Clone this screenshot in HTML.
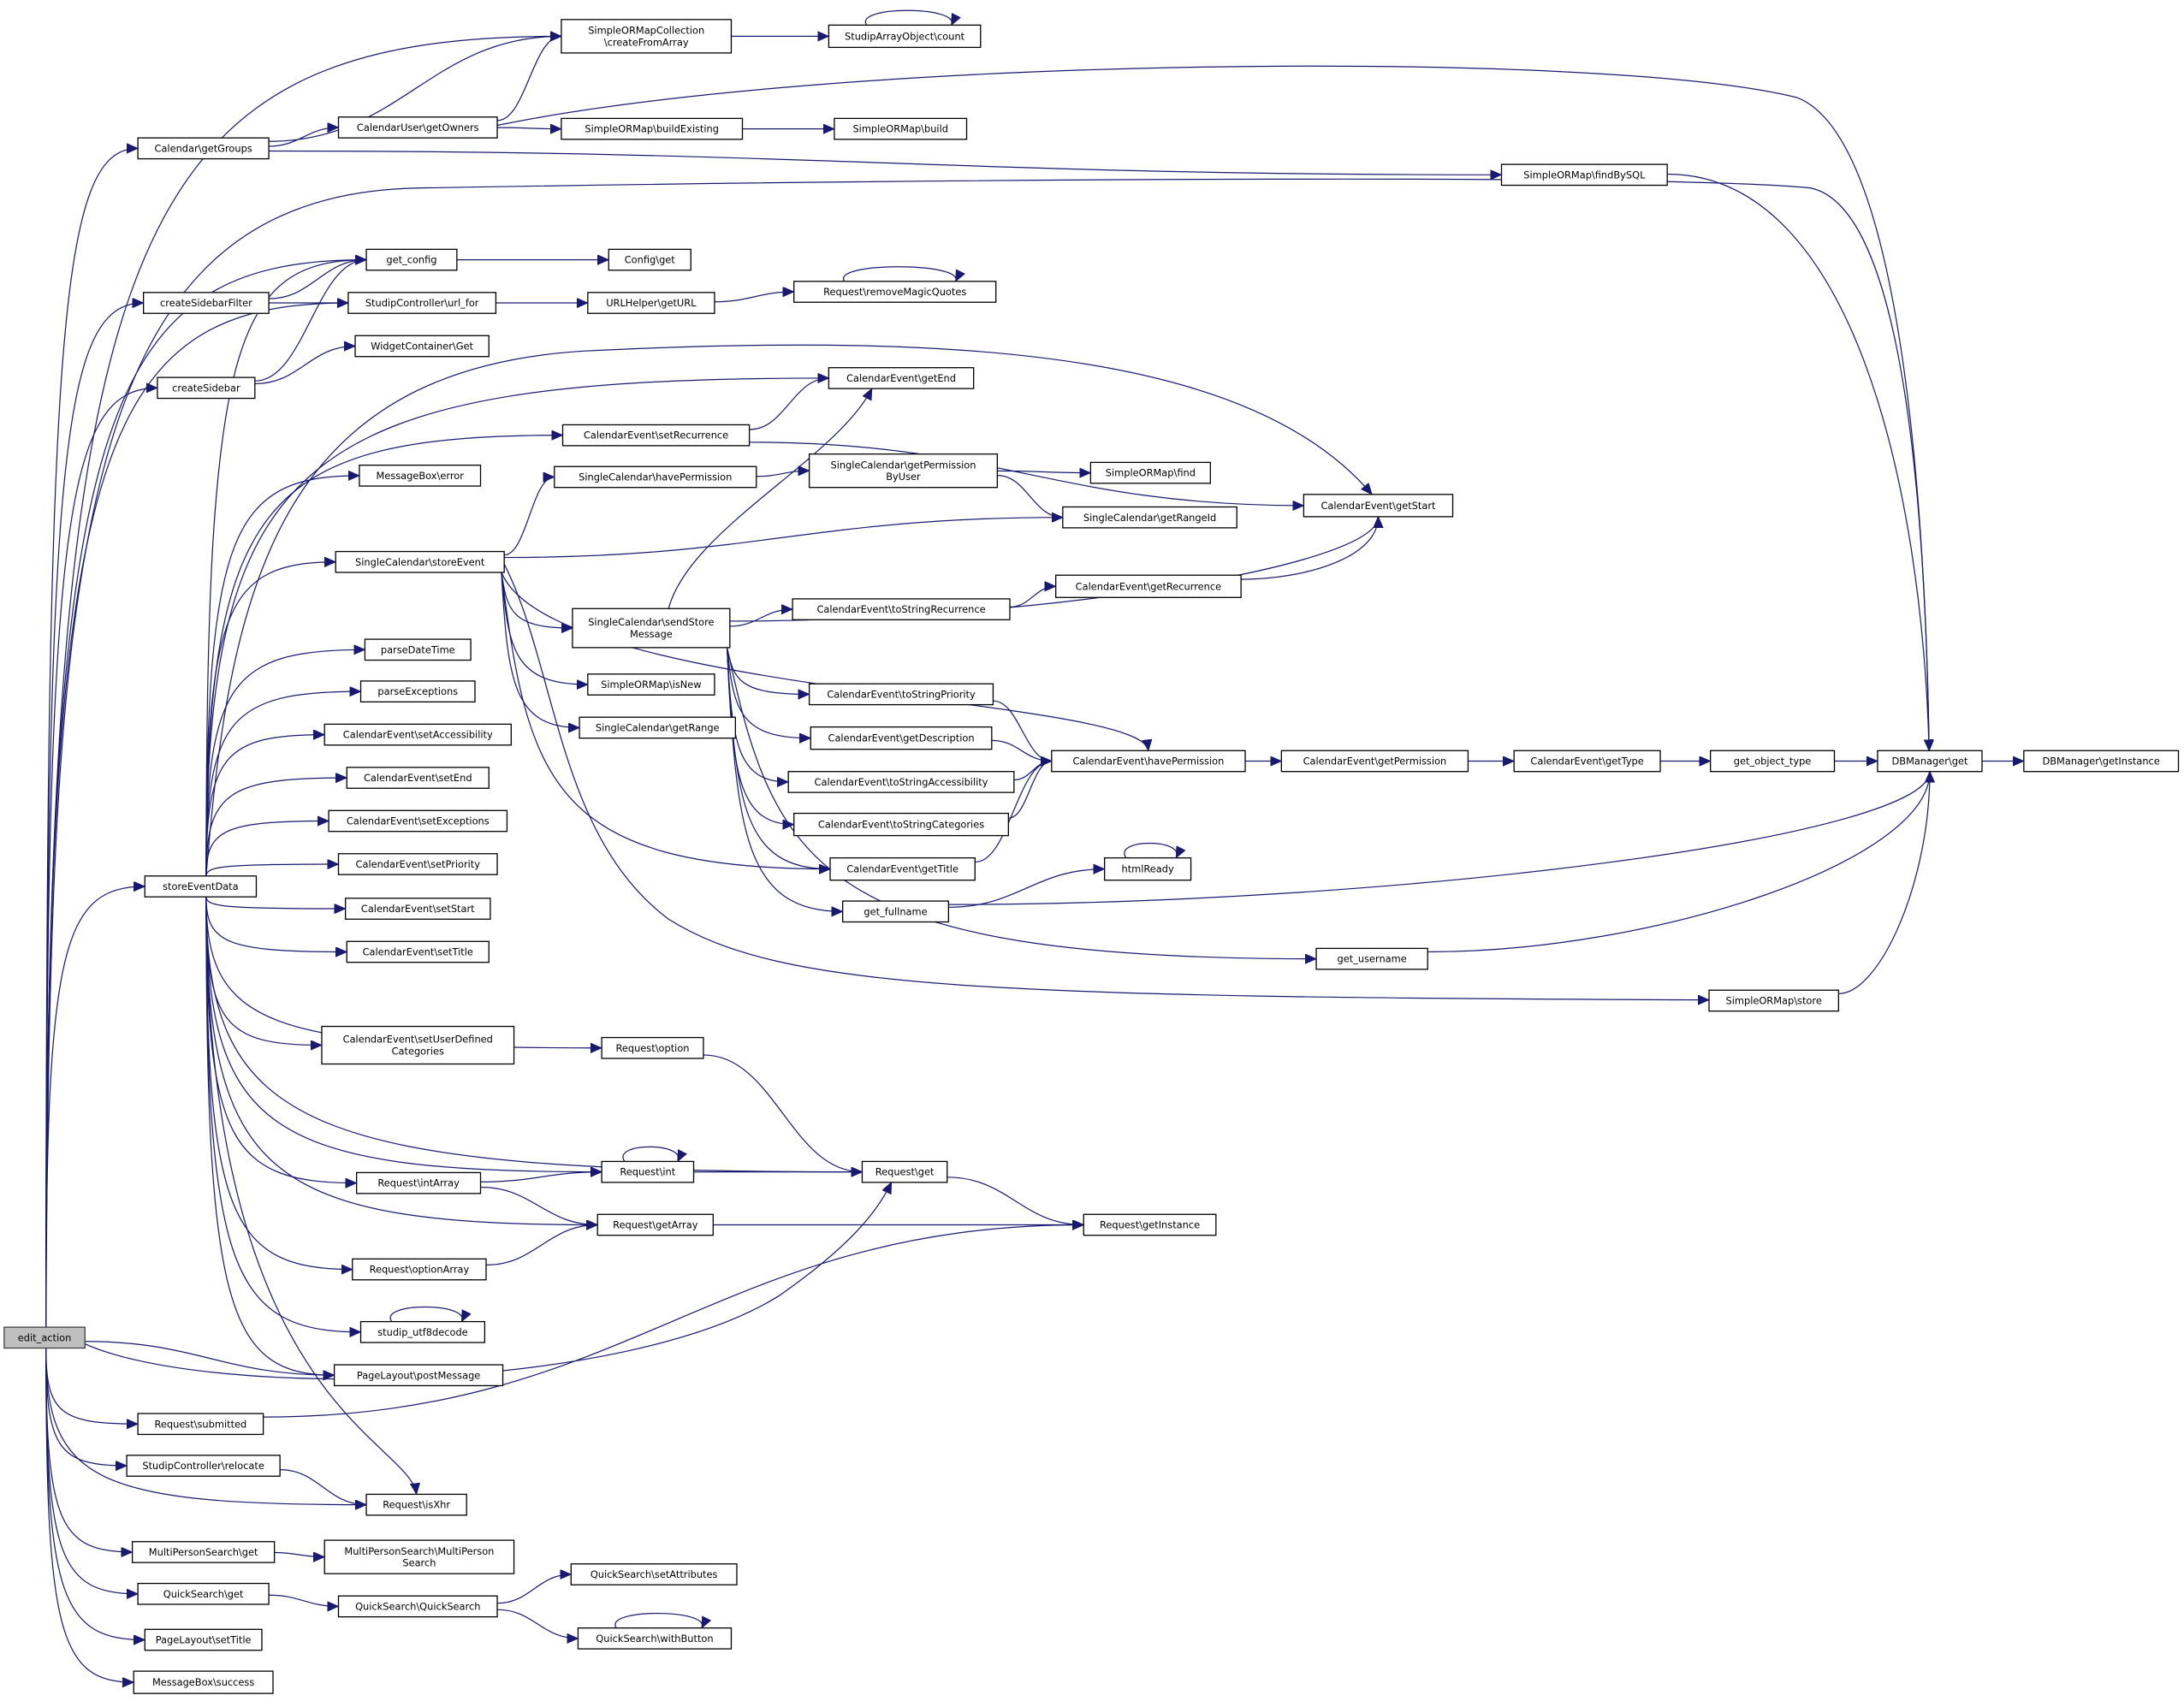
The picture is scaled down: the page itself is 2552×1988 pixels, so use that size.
<!DOCTYPE html>
<html><head><meta charset="utf-8"><style>
html,body{margin:0;padding:0;background:#fff;}
svg{display:block;}
text{font-family:"DejaVu Sans","Liberation Sans",sans-serif;font-size:7px;fill:#000;}
</style></head><body>
<svg id="g" xmlns="http://www.w3.org/2000/svg" width="2552" height="1988" viewBox="0 0 1568 1221.4">
<defs><marker id="a" markerUnits="userSpaceOnUse" markerWidth="10" markerHeight="8" refX="8" refY="3.5" orient="auto"><path d="M0,0 L8,3.5 L0,7 Z" fill="#191970" stroke="#191970" stroke-width="0.5"/></marker></defs>
<g id="E"></g><g id="N"></g>
</svg>
<script>
const N={
ea:['edit_action',3,953,61,968],
gg:['Calendar\\getGroups',99,99,193,114],
cfa:['SimpleORMapCollection\n\\createFromArray',403,14,525,38],
cnt:['StudipArrayObject\\count',595,18,704,34],
go:['CalendarUser\\getOwners',243,84,357,99],
be:['SimpleORMap\\buildExisting',403,85,533,100],
bd:['SimpleORMap\\build',599,85,694,100],
fbs:['SimpleORMap\\findBySQL',1078,118,1197,133],
gc:['get_config',263,179,328,194],
cg:['Config\\get',437,179,496,194],
csf:['createSidebarFilter',103,210,193,225],
uf:['StudipController\\url_for',250,210,356,225],
gu:['URLHelper\\getURL',422,210,513,225],
rmq:['Request\\removeMagicQuotes',570,202,715,217],
wg:['WidgetContainer\\Get',255,241,351,256],
cs:['createSidebar',113,271,183,286],
ge:['CalendarEvent\\getEnd',595,264,699,279],
sr:['CalendarEvent\\setRecurrence',404,305,538,320],
me:['MessageBox\\error',258,334,345,349],
shp:['SingleCalendar\\havePermission',398,335,543,350],
gpu:['SingleCalendar\\getPermission\nByUser',581,326,716,350],
sf:['SimpleORMap\\find',783,332,869,347],
gs:['CalendarEvent\\getStart',936,355,1043,371],
gri:['SingleCalendar\\getRangeId',763,364,888,379],
se:['SingleCalendar\\storeEvent',241,396,362,411],
grc:['CalendarEvent\\getRecurrence',758,413,891,429],
ssm:['SingleCalendar\\sendStore\nMessage',411,437,524,465],
tsr:['CalendarEvent\\toStringRecurrence',569,430,725,445],
pdt:['parseDateTime',262,459,338,474],
isn:['SimpleORMap\\isNew',422,484,513,499],
pe:['parseExceptions',259,489,341,504],
tsp:['CalendarEvent\\toStringPriority',581,491,713,506],
gr:['SingleCalendar\\getRange',416,515,528,530],
sa:['CalendarEvent\\setAccessibility',233,520,367,535],
gd:['CalendarEvent\\getDescription',582,522,712,538],
chp:['CalendarEvent\\havePermission',755,539,894,554],
gp:['CalendarEvent\\getPermission',920,539,1054,554],
gt:['CalendarEvent\\getType',1087,539,1192,554],
got:['get_object_type',1228,539,1317,554],
dbg:['DBManager\\get',1348,539,1423,554],
dbi:['DBManager\\getInstance',1453,539,1564,554],
sen:['CalendarEvent\\setEnd',249,551,351,566],
tsa:['CalendarEvent\\toStringAccessibility',566,554,728,569],
sex:['CalendarEvent\\setExceptions',236,582,364,597],
tsc:['CalendarEvent\\toStringCategories',570,584,724,600],
sed:['storeEventData',104,629,184,644],
sp:['CalendarEvent\\setPriority',243,613,357,628],
gti:['CalendarEvent\\getTitle',596,616,700,632],
hr:['htmlReady',793,616,855,632],
ss:['CalendarEvent\\setStart',248,645,352,660],
gf:['get_fullname',605,647,681,662],
st:['CalendarEvent\\setTitle',249,676,351,691],
gun:['get_username',945,681,1025,696],
sto:['SimpleORMap\\store',1227,711,1320,726],
sudc:['CalendarEvent\\setUserDefined\nCategories',231,737,369,764],
ro:['Request\\option',432,745,505,760],
ri:['Request\\int',432,834,498,849],
rg:['Request\\get',619,834,680,849],
ria:['Request\\intArray',256,842,345,857],
rga:['Request\\getArray',429,872,512,887],
rgi:['Request\\getInstance',778,872,873,887],
roa:['Request\\optionArray',253,904,349,919],
utf:['studip_utf8decode',259,949,348,964],
pm:['PageLayout\\postMessage',240,980,361,995],
rs:['Request\\submitted',99,1015,189,1030],
rel:['StudipController\\relocate',91,1045,201,1060],
rx:['Request\\isXhr',263,1073,335,1088],
mpg:['MultiPersonSearch\\get',95,1107,197,1122],
mps:['MultiPersonSearch\\MultiPerson\nSearch',233,1106,369,1130],
qg:['QuickSearch\\get',99,1137,193,1152],
qs:['QuickSearch\\QuickSearch',243,1146,357,1161],
qsa:['QuickSearch\\setAttributes',410,1123,529,1138],
qwb:['QuickSearch\\withButton',415,1169,525,1184],
pst:['PageLayout\\setTitle',104,1170,188,1185],
mbs:['MessageBox\\success',96,1200,196,1216]
};
const E=[
['ea','cfa'],['ea','gg'],['ea','gc'],['ea','csf'],['ea','uf'],['ea','cs'],['ea','sed'],['ea','pm'],['ea','rs'],['ea','rel'],['ea','rx'],['ea','mpg'],['ea','qg'],['ea','pst'],['ea','mbs'],
['gg','cfa'],['gg','go'],['gg','fbs'],['go','cfa'],['go','be'],['cfa','cnt'],['be','bd'],
['csf','gc'],['csf','uf'],['cs','gc'],['cs','wg'],['gc','cg'],['uf','gu'],['gu','rmq'],
['sed','gc'],['sed','ge'],['sed','me'],['sed','sr'],['sed','se'],['sed','pdt'],['sed','pe'],['sed','sa'],['sed','sen'],['sed','sex'],['sed','sp'],['sed','ss'],['sed','st'],['sed','sudc'],['sed','ro'],['sed','rg'],['sed','ri'],['sed','ria'],['sed','rga'],['sed','roa'],['sed','utf'],['sed','pm'],['sed','rx','T'],
['sr','ge'],['sr','gs'],['shp','gpu'],['gpu','sf'],['gpu','gri'],
['se','shp'],['se','gri'],['se','chp','T'],['se','ssm'],['se','isn'],['se','gr'],['se','gti'],
['ssm','tsr'],['ssm','gs','B'],['ssm','tsp'],['ssm','gd'],['ssm','tsa'],['ssm','tsc'],['ssm','gti'],['ssm','gf'],['ssm','gun'],
['tsr','grc'],['grc','gs','B'],['tsp','chp'],['gd','chp'],['tsa','chp'],['tsc','chp'],['gti','chp'],
['chp','gp'],['gp','gt'],['gt','got'],['got','dbg'],['dbg','dbi'],
['gf','hr'],['gf','dbg','B'],['gun','dbg','B'],['sto','dbg','B'],
['ro','rg'],['ri','rg'],['ria','ri'],['ria','rga'],['rga','rgi'],['roa','rga'],['rg','rgi'],
['rs','rgi'],['rel','rx'],['mpg','mps'],['qg','qs'],['qs','qsa'],['qs','qwb']
];
const custom=[
'M33,953 C36,400 50,140 300,135 C700,128 1200,125 1300,135 C1372,150 1383,400 1385,539',
'M357,90 C600,40 1150,35 1290,70 C1370,100 1383,400 1385,539',
'M1197,125 C1330,125 1380,350 1385,539',
'M148,629 C165,420 200,265 420,252 C700,238 900,255 985,355',
'M362,405 C400,480 400,600 480,660 C560,710 700,716 1227,718',
'M480,437 C495,380 600,330 626,279',
'M61,965 C150,1005 450,1000 560,930 C610,895 630,870 640,849'
];
const loops=['cnt','rmq','hr','ri','utf','qwb'];
const NS='http://www.w3.org/2000/svg';
const eg=document.getElementById('E'),ng=document.getElementById('N');
function P(d){const p=document.createElementNS(NS,'path');p.setAttribute('d',d);p.setAttribute('fill','none');p.setAttribute('stroke','#191970');p.setAttribute('stroke-width','0.75');p.setAttribute('marker-end','url(#a)');eg.appendChild(p);}
const fan={ea:[33,953,968],sed:[148,629,644],ssm:[522,437,465],se:[360,396,411]};
for(const [s,t,an] of E){
 const a=N[s],b=N[t];
 const scy=(a[2]+a[4])/2, tcy=(b[2]+b[4])/2;
 let tx,ty;
 if(an==='T'){tx=(b[1]+b[3])/2;ty=b[2];}
 else if(an==='B'){tx=(b[1]+b[3])/2;ty=b[4];}
 else {tx=b[1];ty=tcy;}
 let sx,sy,c1,c2;
 const dyc=tcy-scy, dxc=tx-a[3];
 const useFan=fan[s]!==undefined && Math.abs(dyc)>12 && !(s==='ssm'&&dyc<0) && !(s==='se'&&dyc<40) && !(Math.abs(dyc)<0.2*dxc && s==='ea');
 if(useFan){
   const f=fan[s];
   sx=f[0]; sy=dyc<0?f[1]:f[2];
   const dx=tx-sx, dy=ty-sy;
   const k=(s==='ea'||s==='sed')?0.85:0.7;
   c1=[sx+ (s==='ea'||s==='sed'?0:0.08*dx), sy+k*dy];
   if(an==='T') c2=[tx-5,ty-40]; else if(an==='B') c2=[tx,ty+40]; else c2=[sx+0.15*dx, ty];
 } else {
   sx=a[3];sy=scy+Math.max(-5,Math.min(5,dyc*0.1));
   const dx=tx-sx, dy=ty-sy;
   c1=[sx+0.45*dx, sy];
   if(an==='T') c2=[tx-5,ty-Math.max(30,Math.abs(dy)*0.5)];
   else if(an==='B') c2=[tx,ty+Math.max(30,Math.abs(dy)*0.5)];
   else c2=[tx-0.45*dx, ty];
 }
 P(`M${sx},${sy} C${c1[0]},${c1[1]} ${c2[0]},${c2[1]} ${tx},${ty}`);
}
custom.forEach(P);
for(const k of loops){const b=N[k];const w=b[3]-b[1];const x1=b[1]+w*0.25,x2=b[1]+w*0.78;
 P(`M${x1},${b[2]} C${x1-10},${b[2]-14} ${x2+10},${b[2]-14} ${x2+3},${b[2]}`);}
for(const k in N){const b=N[k];
 const r=document.createElementNS(NS,'rect');
 r.setAttribute('x',b[1]);r.setAttribute('y',b[2]);r.setAttribute('width',b[3]-b[1]);r.setAttribute('height',b[4]-b[2]);
 r.setAttribute('fill',k==='ea'?'#bfbfbf':'#fff');r.setAttribute('stroke',k==='ea'?'#404040':'#000');r.setAttribute('stroke-width','0.8');
 ng.appendChild(r);
 const lines=b[0].split('\n');const cy=(b[2]+b[4])/2;
 lines.forEach((l,i)=>{const t=document.createElementNS(NS,'text');
  t.setAttribute('x',(b[1]+b[3])/2);t.setAttribute('y',cy+2.5+(i-(lines.length-1)/2)*8.5);
  t.setAttribute('text-anchor','middle');t.textContent=l;ng.appendChild(t);});
}
</script>
</body></html>
